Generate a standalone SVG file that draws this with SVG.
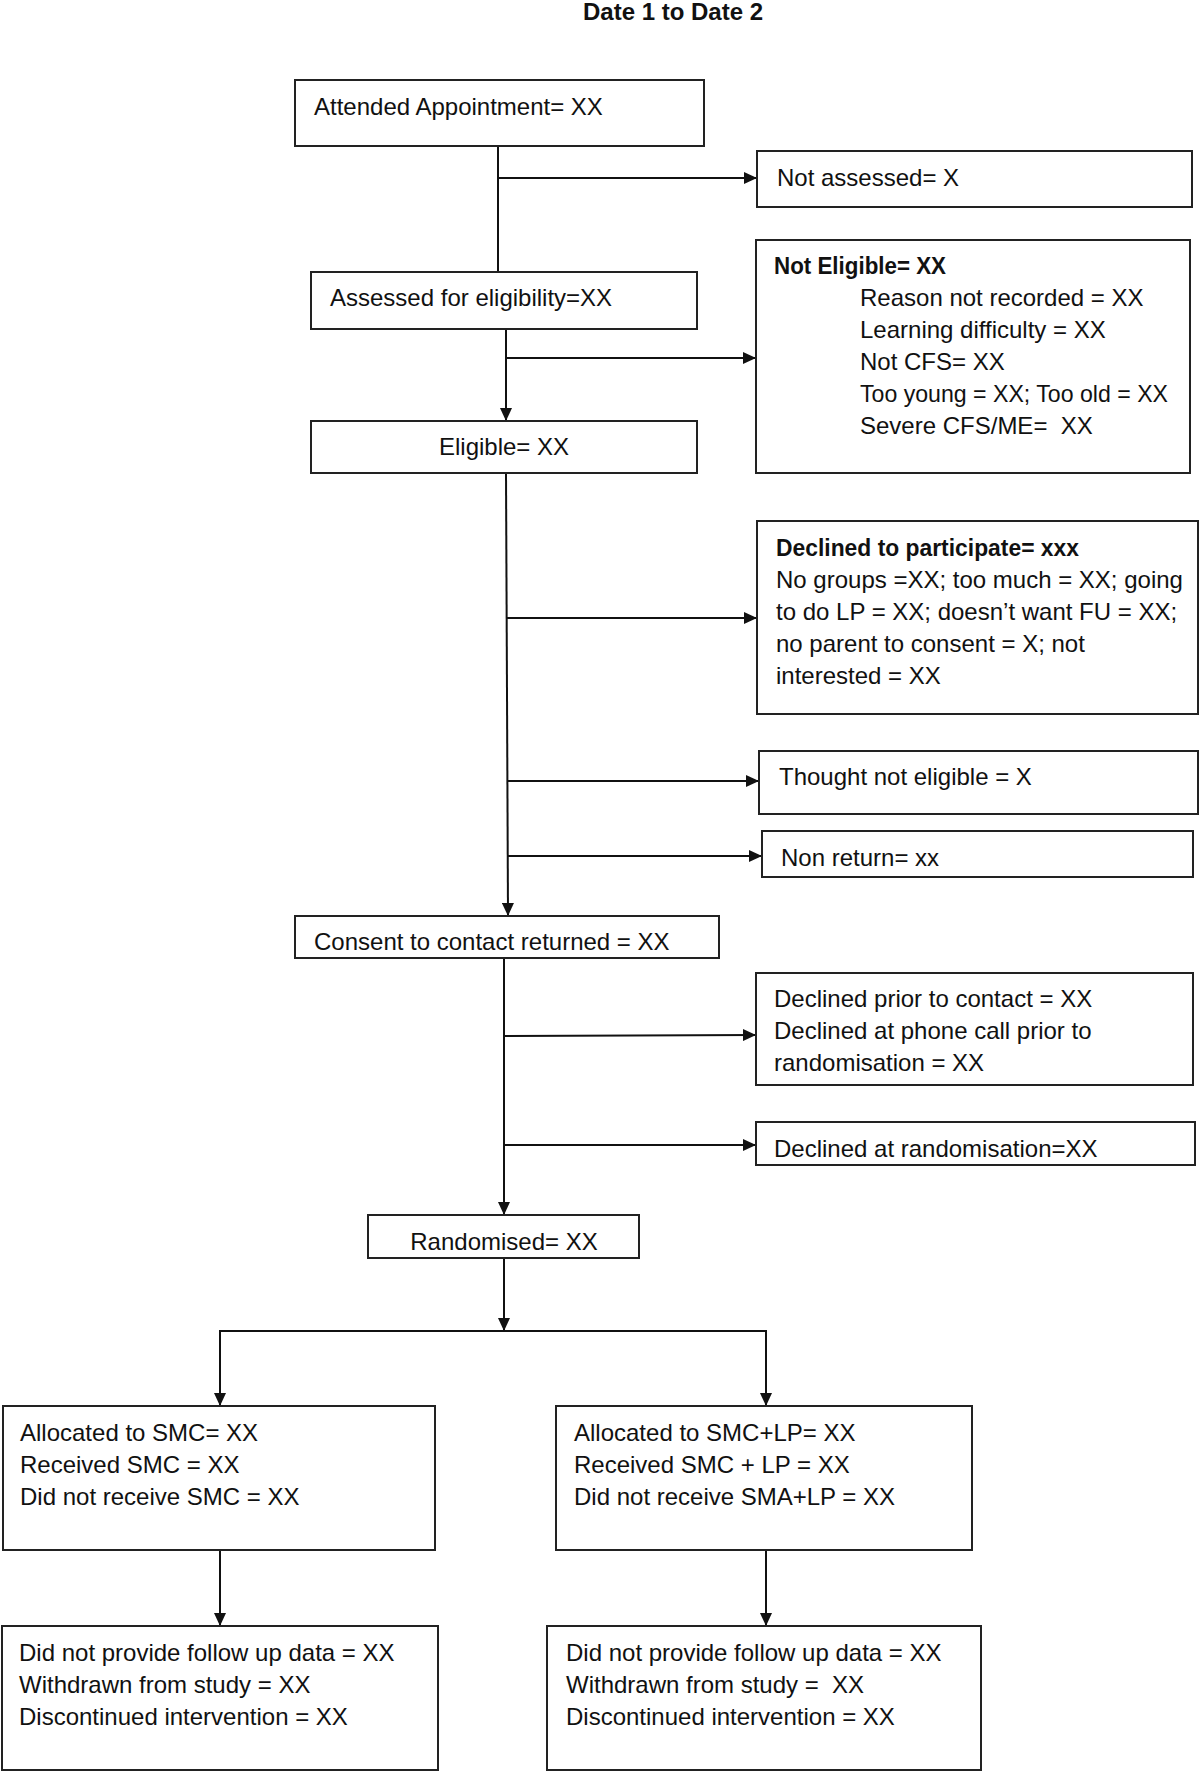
<svg xmlns="http://www.w3.org/2000/svg" width="1200" height="1771" viewBox="0 0 1200 1771">
<defs>
<style>
.box{fill:#fff;stroke:#222;stroke-width:2}
.t{font-family:"Liberation Sans",Arial,sans-serif;font-size:24px;fill:#111;white-space:pre}
.b{font-weight:bold}
.c{stroke:#111;stroke-width:2;fill:none}
</style>
<marker id="ah" markerUnits="userSpaceOnUse" markerWidth="14" markerHeight="12" refX="13" refY="6" orient="auto">
<path d="M0,0 L13,6 L0,12 z" fill="#111"/>
</marker>
</defs>
<rect width="1200" height="1771" fill="#fff"/>
<text class="t b" x="673" y="20" text-anchor="middle" font-size="26">Date 1 to Date 2</text>

<g id="connectors">
<line class="c" x1="498" y1="146" x2="498" y2="272"/>
<line class="c" x1="498" y1="178" x2="757" y2="178" marker-end="url(#ah)"/>
<line class="c" x1="506" y1="329" x2="506" y2="421" marker-end="url(#ah)"/>
<line class="c" x1="506" y1="358" x2="756" y2="358" marker-end="url(#ah)"/>
<line class="c" x1="506" y1="473" x2="508" y2="916" marker-end="url(#ah)"/>
<line class="c" x1="507" y1="618" x2="757" y2="618" marker-end="url(#ah)"/>
<line class="c" x1="508" y1="781" x2="759" y2="781" marker-end="url(#ah)"/>
<line class="c" x1="508" y1="856" x2="762" y2="856" marker-end="url(#ah)"/>
<line class="c" x1="504" y1="958" x2="504" y2="1215" marker-end="url(#ah)"/>
<line class="c" x1="504" y1="1036" x2="756" y2="1035" marker-end="url(#ah)"/>
<line class="c" x1="504" y1="1145" x2="756" y2="1145" marker-end="url(#ah)"/>
<line class="c" x1="504" y1="1258" x2="504" y2="1331" marker-end="url(#ah)"/>
<polyline class="c" points="220,1406 220,1331 766,1331 766,1406"/>
<line class="c" x1="220" y1="1331" x2="220" y2="1406" marker-end="url(#ah)"/>
<line class="c" x1="766" y1="1331" x2="766" y2="1406" marker-end="url(#ah)"/>
<line class="c" x1="220" y1="1550" x2="220" y2="1626" marker-end="url(#ah)"/>
<line class="c" x1="766" y1="1550" x2="766" y2="1626" marker-end="url(#ah)"/>
</g>

<g id="attended">
<rect class="box" x="295" y="80" width="409" height="66"/>
<text class="t" x="314" y="115">Attended Appointment= XX</text>
</g>
<g id="not-assessed">
<rect class="box" x="757" y="151" width="435" height="56"/>
<text class="t" x="777" y="186">Not assessed= X</text>
</g>
<g id="assessed">
<rect class="box" x="311" y="272" width="386" height="57"/>
<text class="t" x="330" y="306">Assessed for eligibility=XX</text>
</g>
<g id="not-eligible">
<rect class="box" x="756" y="240" width="434" height="233"/>
<text class="t b" x="774" y="274" textLength="172" lengthAdjust="spacingAndGlyphs">Not Eligible= XX</text>
<text class="t" x="860" y="306">Reason not recorded = XX</text>
<text class="t" x="860" y="338">Learning difficulty = XX</text>
<text class="t" x="860" y="370">Not CFS= XX</text>
<text class="t" x="860" y="402" textLength="308" lengthAdjust="spacingAndGlyphs">Too young = XX; Too old = XX</text>
<text class="t" x="860" y="434">Severe CFS/ME=  XX</text>
</g>
<g id="eligible">
<rect class="box" x="311" y="421" width="386" height="52"/>
<text class="t" x="504" y="455" text-anchor="middle">Eligible= XX</text>
</g>
<g id="declined-participate">
<rect class="box" x="757" y="521" width="441" height="193"/>
<text class="t b" x="776" y="556" textLength="303" lengthAdjust="spacingAndGlyphs">Declined to participate= xxx</text>
<text class="t" x="776" y="588">No groups =XX; too much = XX; going</text>
<text class="t" x="776" y="620">to do LP = XX; doesn’t want FU = XX;</text>
<text class="t" x="776" y="652">no parent to consent = X; not</text>
<text class="t" x="776" y="684">interested = XX</text>
</g>
<g id="thought-not-eligible">
<rect class="box" x="759" y="751" width="439" height="63"/>
<text class="t" x="779" y="785">Thought not eligible = X</text>
</g>
<g id="non-return">
<rect class="box" x="762" y="831" width="431" height="46"/>
<text class="t" x="781" y="866">Non return= xx</text>
</g>
<g id="consent">
<rect class="box" x="295" y="916" width="424" height="42"/>
<text class="t" x="314" y="950">Consent to contact returned = XX</text>
</g>
<g id="declined-prior">
<rect class="box" x="756" y="973" width="437" height="112"/>
<text class="t" x="774" y="1007">Declined prior to contact = XX</text>
<text class="t" x="774" y="1039">Declined at phone call prior to</text>
<text class="t" x="774" y="1071">randomisation = XX</text>
</g>
<g id="declined-randomisation">
<rect class="box" x="756" y="1122" width="439" height="43"/>
<text class="t" x="774" y="1157">Declined at randomisation=XX</text>
</g>
<g id="randomised">
<rect class="box" x="368" y="1215" width="271" height="43"/>
<text class="t" x="504" y="1250" text-anchor="middle">Randomised= XX</text>
</g>
<g id="allocated-smc">
<rect class="box" x="3" y="1406" width="432" height="144"/>
<text class="t" x="20" y="1441">Allocated to SMC= XX</text>
<text class="t" x="20" y="1473">Received SMC = XX</text>
<text class="t" x="20" y="1505">Did not receive SMC = XX</text>
</g>
<g id="allocated-smc-lp">
<rect class="box" x="556" y="1406" width="416" height="144"/>
<text class="t" x="574" y="1441">Allocated to SMC+LP= XX</text>
<text class="t" x="574" y="1473">Received SMC + LP = XX</text>
<text class="t" x="574" y="1505">Did not receive SMA+LP = XX</text>
</g>
<g id="followup-smc">
<rect class="box" x="2" y="1626" width="436" height="144"/>
<text class="t" x="19" y="1661">Did not provide follow up data = XX</text>
<text class="t" x="19" y="1693">Withdrawn from study = XX</text>
<text class="t" x="19" y="1725">Discontinued intervention = XX</text>
</g>
<g id="followup-smc-lp">
<rect class="box" x="547" y="1626" width="434" height="144"/>
<text class="t" x="566" y="1661">Did not provide follow up data = XX</text>
<text class="t" x="566" y="1693">Withdrawn from study =  XX</text>
<text class="t" x="566" y="1725">Discontinued intervention = XX</text>
</g>
</svg>
